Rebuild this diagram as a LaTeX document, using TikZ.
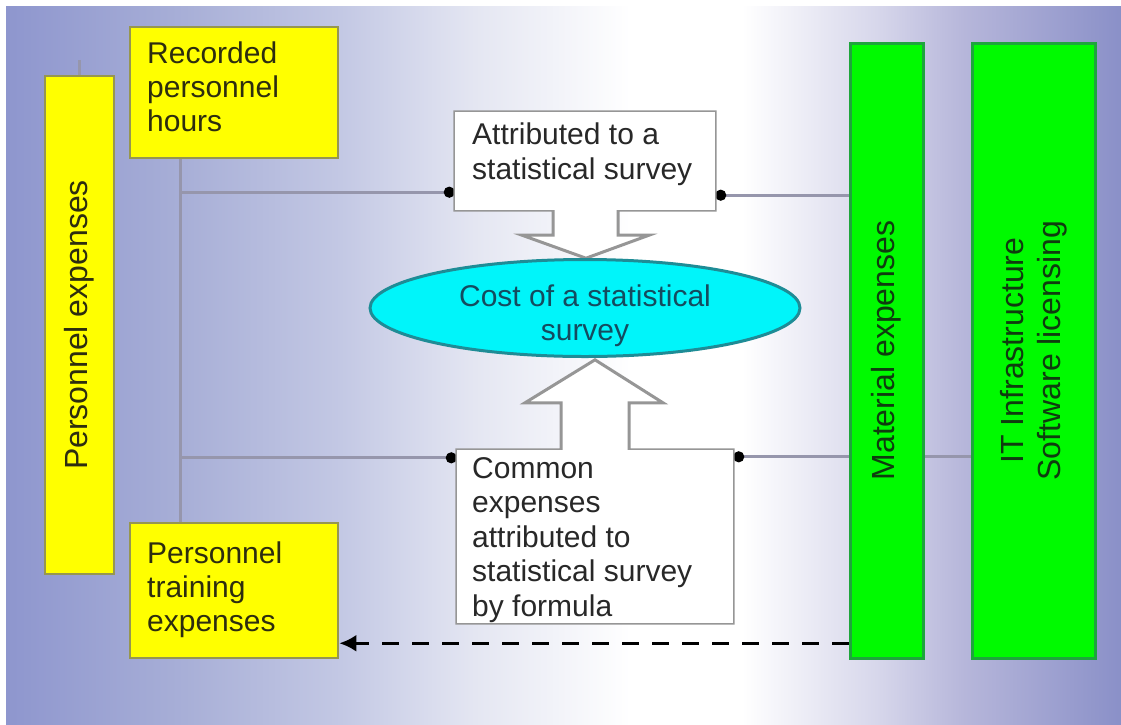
\documentclass[tikz,border=0pt]{standalone}
\usepackage{fontspec}
\setmainfont{Liberation Sans}
\usetikzlibrary{shapes.geometric,arrows.meta,calc}
\pgfdeclarelayer{bg}
\pgfdeclarelayer{lines}
\pgfsetlayers{bg,lines,main}
\definecolor{bgL}{RGB}{142,150,206}
\definecolor{bgA}{RGB}{168,175,215}
\definecolor{bgB}{RGB}{195,200,228}
\definecolor{bgC}{RGB}{228,230,242}
\definecolor{bgD}{RGB}{215,215,235}
\definecolor{bgE}{RGB}{182,182,218}
\definecolor{bgR}{RGB}{138,144,200}
\definecolor{yfill}{RGB}{255,255,0}
\definecolor{yline}{RGB}{150,150,80}
\definecolor{gfill}{RGB}{0,250,0}
\definecolor{gline}{RGB}{30,165,60}
\definecolor{cfill}{RGB}{0,245,250}
\definecolor{cline}{RGB}{30,140,150}
\definecolor{ydark}{RGB}{45,45,15}
\definecolor{wdark}{RGB}{40,40,40}
\definecolor{gdark}{RGB}{15,60,15}
\definecolor{cdark}{RGB}{20,75,95}
\definecolor{connc}{RGB}{150,150,172}
\definecolor{boxl}{RGB}{150,150,150}
\pgfdeclarehorizontalshading{bgsh}{100bp}{color(0bp)=(bgL); color(25bp)=(bgL); color(33bp)=(bgA); color(40bp)=(bgB); color(46bp)=(bgC); color(53bp)=(white); color(58bp)=(white); color(64bp)=(bgD); color(68bp)=(bgE); color(75bp)=(bgR); color(100bp)=(bgR)}
\begin{document}
\begin{tikzpicture}[x=1pt,y=-1pt,
  ybox/.style={draw=yline, fill=yfill, line width=2.5pt, inner sep=0pt},
  gbox/.style={draw=gline, fill=gfill, line width=3pt, inner sep=0pt},
  wbox/.style={draw=none, fill=white, inner sep=0pt},
  callout/.style={draw=boxl, fill=white, line width=3pt, line join=miter},
  conn/.style={draw=connc, line width=3pt},
  dotend/.style={-{Circle[length=11pt,width=11pt,color=black,fill=black]}},
  dasharrow/.style={draw=black, line width=3.5pt, dash pattern=on 17pt off 13pt, -{Latex[length=17pt,width=17pt]}},
  ytext/.style={font=\fontsize{30}{34}\selectfont, align=left, inner sep=0pt, text=ydark},
  wtext/.style={font=\fontsize{30}{34.5}\selectfont, align=left, inner sep=0pt, text=wdark},
  ctext/.style={font=\fontsize{30}{34}\selectfont, align=center, inner sep=0pt, text=cdark},
  rtext/.style={font=\fontsize{32}{37}\selectfont, align=center, inner sep=0pt, rotate=90}
]
\useasboundingbox (0,0) rectangle (1121,724);
\begin{pgfonlayer}{bg}
  \fill[white] (0,0) rectangle (1121,724);
  \shade[shading=bgsh] (6,6) rectangle (1121,724);
\end{pgfonlayer}

% boxes
\node[ybox, minimum width=69pt, minimum height=498pt] (pers) at (79.5,325) {};
\node[ybox, minimum width=208pt, minimum height=131pt] (rec) at (234,92.5) {};
\node[ybox, minimum width=208pt, minimum height=135pt] (trn) at (234,590.5) {};
\node[gbox, minimum width=73pt, minimum height=615pt] (mat) at (886.5,350.5) {};
\node[gbox, minimum width=123pt, minimum height=615pt] (it) at (1033.5,350.5) {};
\node[wbox, minimum width=260pt, minimum height=98pt] (att) at (585,161) {};
\node[wbox, minimum width=276pt, minimum height=173pt] (com) at (595,536.5) {};
\node[ellipse, draw=cline, fill=cfill, line width=3pt, inner sep=0pt,
      minimum width=430pt, minimum height=97pt] (cost) at (585,308) {};

% connector points
\coordinate (vt) at ($(rec.south west)+(52,0)$);
\coordinate (vb) at ($(trn.north west)+(52,0)$);
\coordinate (aL) at ($(att.south west)+(0,-18)$);
\coordinate (aR) at ($(att.south east)+(0,-15)$);
\coordinate (cL) at ($(com.north west)+(0,8)$);
\coordinate (cR) at ($(com.north east)+(0,7)$);
\coordinate (dY) at ($(trn.south east)+(0,-16)$);

\begin{pgfonlayer}{lines}
  \draw[conn] (pers.north) -- ++(0,-15);
  \draw[conn] (vt) -- (vb);
  \draw[conn,dotend] (vt |- aL) -- (aL);
  \draw[conn,dotend] (mat.west |- aR) -- (aR);
  \draw[conn,dotend] (vt |- cL) -- (cL);
  \draw[conn,dotend] (it.west |- cR) -- (cR);
  \draw[dasharrow] (mat.west |- dY) -- (dY);
  % callout: attributed box with down arrow
  \draw[callout] (att.north west) -- (att.north east) -- (att.south east)
    -- ($(att.south)+(33,0)$) -- ($(att.south)+(33,25)$) -- ($(att.south)+(64,25)$)
    -- ($(att.south)+(1,48)$) -- ($(att.south)+(-63,25)$) -- ($(att.south)+(-32,25)$)
    -- ($(att.south)+(-32,0)$) -- (att.south west) -- cycle;
  % callout: common box with up arrow
  \draw[callout] (com.south west) -- (com.north west)
    -- ($(com.north)+(-34,0)$) -- ($(com.north)+(-34,-47)$) -- ($(com.north)+(-70,-47)$)
    -- ($(com.north)+(0,-90)$) -- ($(com.north)+(68,-47)$) -- ($(com.north)+(34,-47)$)
    -- ($(com.north)+(34,0)$) -- (com.north east) -- (com.south east) -- cycle;
\end{pgfonlayer}

% texts
\node[ytext, anchor=north west] (rect) at (147,42) {Recorded\\personnel\\hours};
\node[ytext, anchor=north west] (trnt) at (147,542) {Personnel\\training\\expenses};
\node[wtext, anchor=north west] (attt) at (472,123) {Attributed to a\\statistical survey};
\node[wtext, anchor=north west] (comt) at (472,457) {Common\\expenses\\attributed to\\statistical survey\\by formula};
\node[ctext] (costt) at (585,316) {Cost of a statistical\\survey};
\node[rtext, text=ydark] (perst) at (pers.center) {Personnel expenses};
\node[rtext, text=gdark] (matt) at (mat.center) {Material expenses};
\node[rtext, text=gdark] (itt) at (it.center) {IT Infrastructure\\Software licensing};
\end{tikzpicture}
\end{document}
